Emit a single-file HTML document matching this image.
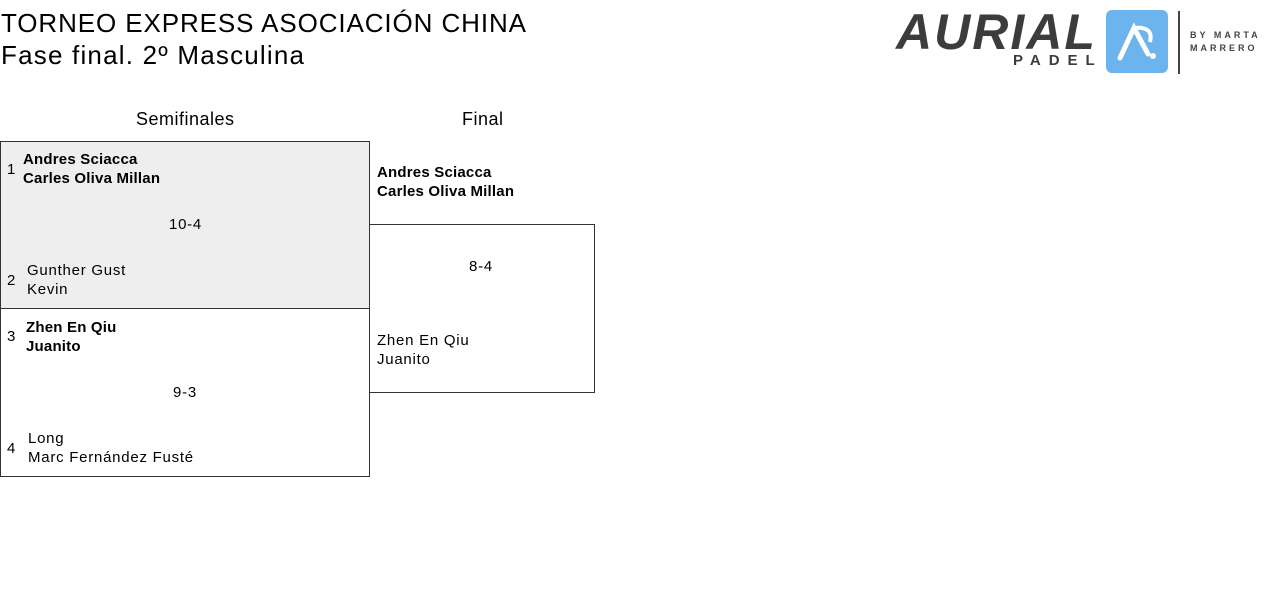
<!DOCTYPE html>
<html><head><meta charset="utf-8"><style>
body{margin:0;width:1280px;height:595px;background:#fff;font-family:"Liberation Sans",sans-serif;color:#000;position:relative;overflow:hidden}
.a{position:absolute;white-space:nowrap}
.t{font-size:26px;letter-spacing:0.9px}
.h{font-size:18px;letter-spacing:0.5px}
.n{font-size:15px;line-height:19px;letter-spacing:0.75px}
.b{font-weight:bold;letter-spacing:0.2px}
.box{position:absolute;border:1px solid #333;box-sizing:border-box}
</style></head><body>
<div class="a t" style="left:1px;top:8px">TORNEO EXPRESS ASOCIACIÓN CHINA</div>
<div class="a t" style="left:1px;top:40px;letter-spacing:1.2px">Fase final. 2º Masculina</div>

<!-- logo -->
<div class="a" style="left:896px;top:4px;font-size:50px;font-weight:bold;font-style:italic;color:#3c3c3c;letter-spacing:2px;line-height:56px">AURIAL</div>
<div class="a" style="left:1013px;top:52px;font-size:15px;font-weight:bold;color:#3c3c3c;letter-spacing:8px">PADEL</div>
<div class="a" style="left:1106px;top:10px;width:62px;height:63px;background:#6db3ee;border-radius:6px">
<svg width="62" height="63"><path d="M14 48 L28 18 L42 44" stroke="#fff" stroke-width="5" fill="none" stroke-linecap="round"/><path d="M28 18 Q48 16 44 32" stroke="#fff" stroke-width="4" fill="none"/><circle cx="47" cy="46" r="3" fill="#fff"/></svg></div>
<div class="a" style="left:1178px;top:11px;width:2px;height:63px;background:#444"></div>
<div class="a" style="left:1190px;top:29px;font-size:9px;font-weight:bold;color:#444;letter-spacing:3px;line-height:13px">BY MARTA<br>MARRERO</div>

<div class="a h" style="left:136px;top:109px">Semifinales</div>
<div class="a h" style="left:462px;top:109px">Final</div>

<div class="box" style="left:0;top:141px;width:370px;height:168px;background:#eee"></div>
<div class="box" style="left:0;top:308px;width:370px;height:169px"></div>
<div class="box" style="left:369px;top:224px;width:226px;height:169px"></div>

<div class="a n" style="left:7px;top:160px">1</div>
<div class="a n b" style="left:23px;top:150px">Andres Sciacca<br>Carles Oliva Millan</div>
<div class="a n" style="left:169px;top:215px">10-4</div>
<div class="a n" style="left:7px;top:271px">2</div>
<div class="a n" style="left:27px;top:261px">Gunther Gust<br>Kevin</div>

<div class="a n" style="left:7px;top:327px">3</div>
<div class="a n b" style="left:26px;top:318px">Zhen En Qiu<br>Juanito</div>
<div class="a n" style="left:173px;top:383px">9-3</div>
<div class="a n" style="left:7px;top:439px">4</div>
<div class="a n" style="left:28px;top:429px">Long<br>Marc Fernández Fusté</div>

<div class="a n b" style="left:377px;top:163px">Andres Sciacca<br>Carles Oliva Millan</div>
<div class="a n" style="left:469px;top:257px">8-4</div>
<div class="a n" style="left:377px;top:331px">Zhen En Qiu<br>Juanito</div>
</body></html>
